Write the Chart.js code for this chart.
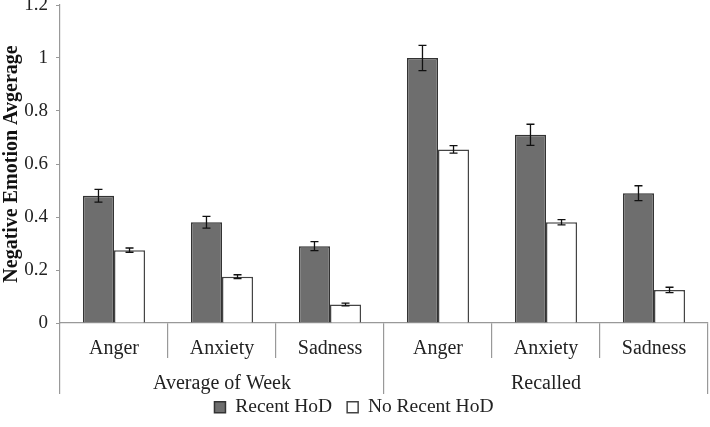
<!DOCTYPE html>
<html>
<head>
<meta charset="utf-8">
<script src="https://cdn.jsdelivr.net/npm/chart.js@4.4.1/dist/chart.umd.min.js"></script>
<style>
  html, body { margin: 0; padding: 0; background: #fff; }
  #wrap { width: 710px; height: 427px; }
</style>
</head>
<body>
<div id="wrap"><canvas id="c" width="710" height="427"></canvas></div>
<script>
const categories = ['Anger', 'Anxiety', 'Sadness', 'Anger', 'Anxiety', 'Sadness'];
const groups = ['Average of Week', 'Recalled'];
const recentHoD = [0.48, 0.38, 0.29, 1.0, 0.71, 0.49];
const recentErr = [0.024, 0.022, 0.017, 0.048, 0.04, 0.028];
const noRecentHoD = [0.275, 0.175, 0.07, 0.655, 0.38, 0.125];
const noRecentErr = [0.008, 0.007, 0.005, 0.014, 0.01, 0.01];
const yTicks = [0, 0.2, 0.4, 0.6, 0.8, 1, 1.2];

const serif = 'Liberation Serif';

// error bars on top of each bar
const errorBars = {
  id: 'errorBars',
  afterDatasetsDraw(chart) {
    const ctx = chart.ctx;
    const y = chart.scales.y;
    chart.data.datasets.forEach((ds, i) => {
      const meta = chart.getDatasetMeta(i);
      meta.data.forEach((bar, j) => {
        const v = ds.data[j], e = ds.errors[j];
        const top = y.getPixelForValue(v + e);
        const bot = y.getPixelForValue(v - e);
        ctx.save();
        ctx.strokeStyle = '#111';
        ctx.lineWidth = 1.3;
        ctx.beginPath();
        ctx.moveTo(bar.x, top); ctx.lineTo(bar.x, bot);
        ctx.moveTo(bar.x - 4, top); ctx.lineTo(bar.x + 4, top);
        ctx.moveTo(bar.x - 4, bot); ctx.lineTo(bar.x + 4, bot);
        ctx.stroke();
        ctx.restore();
      });
    });
  }
};

new Chart(document.getElementById('c'), {
  type: 'bar',
  data: {
    labels: categories,
    datasets: [
      {
        label: 'Recent HoD',
        data: recentHoD,
        errors: recentErr,
        xAxisID: 'x',
        backgroundColor: '#6e6e6e',
        borderColor: '#333',
        borderWidth: 1.5,
        categoryPercentage: 0.575,
        barPercentage: 1
      },
      {
        label: 'No Recent HoD',
        data: noRecentHoD,
        errors: noRecentErr,
        xAxisID: 'x',
        backgroundColor: '#fff',
        borderColor: '#444',
        borderWidth: 1.5,
        categoryPercentage: 0.575,
        barPercentage: 1
      }
    ]
  },
  options: {
    responsive: false,
    animation: false,
    layout: { padding: { top: 5, right: 2, left: 0, bottom: 0 } },
    plugins: {
      tooltip: { enabled: false },
      legend: {
        position: 'bottom',
        labels: {
          color: '#222',
          font: { family: serif, size: 19.5 },
          boxWidth: 11,
          boxHeight: 11,
          padding: 15
        }
      }
    },
    scales: {
      x: {
        type: 'category',
        position: 'bottom',
        offset: true,
        afterFit(s) { s.height = 35; },
        border: { display: true, color: '#999', width: 1.2 },
        grid: { offset: true, drawOnChartArea: false, drawTicks: true, tickLength: 35, color: '#999', lineWidth: 1.2 },
        ticks: { color: '#222', font: { family: serif, size: 20 }, mirror: true, padding: -38, maxRotation: 0 }
      },
      x2: {
        type: 'category',
        position: 'bottom',
        labels: groups,
        offset: true,
        afterFit(s) { s.height = 24.5; },
        border: { display: false },
        grid: { offset: true, drawOnChartArea: false, drawTicks: true, tickLength: 36, color: '#999', lineWidth: 1.2 },
        ticks: { color: '#222', font: { family: serif, size: 20 }, mirror: true, padding: -38, maxRotation: 0 }
      },
      y: {
        min: 0,
        max: 1.2,
        afterFit(s) { s.width = 60; s.paddingTop = 0; s.paddingBottom = 0; },
        afterBuildTicks(s) { s.ticks = yTicks.map(v => ({ value: v })); },
        border: { display: true, color: '#999', width: 1.2 },
        grid: { drawOnChartArea: false, drawTicks: true, tickLength: 4, color: '#999' },
        ticks: {
          color: '#222',
          font: { family: serif, size: 19 },
          padding: 8,
          callback: v => String(Math.round(v * 10) / 10)
        },
        title: {
          display: true,
          text: 'Negative Emotion Avgerage',
          color: '#111',
          font: { family: serif, size: 20, weight: 'bold' },
          padding: { top: 0, bottom: 0 }
        }
      }
    }
  },
  plugins: [errorBars]
});
</script>
</body>
</html>
